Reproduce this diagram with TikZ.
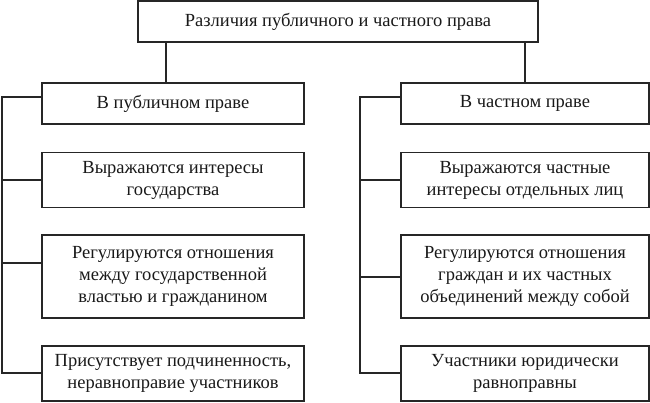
\documentclass[tikz,border=0pt]{standalone}
\usepackage{fontspec}
\setmainfont{Liberation Serif}
\begin{document}
\begin{tikzpicture}[x=1pt,y=-1pt,
  box/.style={draw=black!85, line width=1.3pt, inner sep=0pt, align=center, text=black!90,
    font=\fontsize{18.5}{22}\selectfont},
  conn/.style={draw=black!85, line width=1.3pt}]
\useasboundingbox (0,0) rectangle (650,402);
% top
\node[box, minimum width=400pt, minimum height=41pt] (top) at (338,21.5) {Различия публичного и частного права};
% left column
\node[box, minimum width=262pt, minimum height=41pt] (lh) at (173,103.5) {В публичном праве};
\node[box, minimum width=262pt, minimum height=55pt] (l1) at (173,180) {Выражаются интересы\\государства};
\node[box, minimum width=262pt, minimum height=83pt] (l2) at (173,276.5) {Регулируются отношения\\между государственной\\властью и гражданином};
\node[box, minimum width=262pt, minimum height=55pt] (l3) at (173,373.5) {Присутствует подчиненность,\\неравноправие участников};
% right column
\node[box, minimum width=248pt, minimum height=41pt] (rh) at (525,103.5) {В частном праве};
\node[box, minimum width=248pt, minimum height=55pt] (r1) at (525,180) {Выражаются частные\\интересы отдельных лиц};
\node[box, minimum width=248pt, minimum height=83pt] (r2) at (525,276.5) {Регулируются отношения\\граждан и их частных\\объединений между собой};
\node[box, minimum width=248pt, minimum height=55pt] (r3) at (525,373.5) {Участники юридически\\равноправны};
% connectors from top
\draw[conn] ([xshift=-7pt]top.south -| lh.north) -- ([xshift=-7pt]lh.north);
\draw[conn] (top.south -| rh.north) -- (rh.north);
% left bus
\coordinate (lbus) at (2,97);
\coordinate (lbusend) at (2,373);
\draw[conn] (lh.west |- lbus) -- (lbus) -- (lbusend) -- (l3.west |- lbusend);
\draw[conn] (l1.west) -- (l1.west -| lbus);
\draw[conn] ([yshift=13.5pt]l2.west) -- ([yshift=13.5pt]l2.west -| lbus);
% right bus
\coordinate (rbus) at (360,97);
\coordinate (rbusend) at (360,373);
\draw[conn] (rh.west |- rbus) -- (rbus) -- (rbusend) -- (r3.west |- rbusend);
\draw[conn] (r1.west) -- (r1.west -| rbus);
\draw[conn] ([yshift=-0.5pt]r2.west) -- ([yshift=-0.5pt]r2.west -| rbus);
\end{tikzpicture}
\end{document}
